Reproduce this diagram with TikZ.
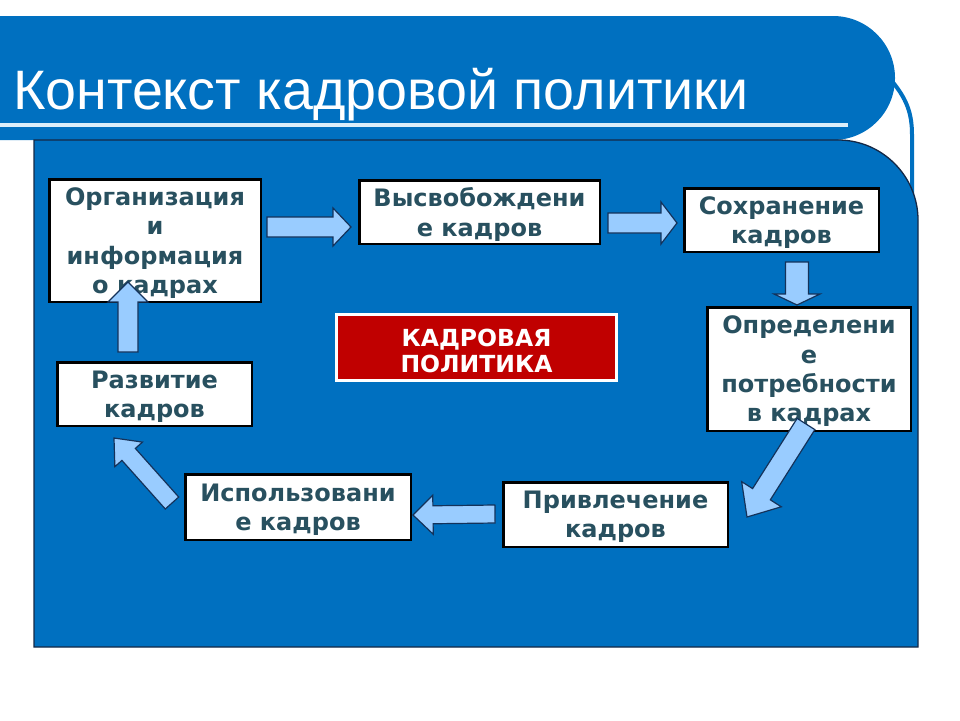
\documentclass[tikz,border=0pt]{standalone}
\usepackage{fontspec}
\setmainfont{DejaVu Sans}
\newfontfamily\titlefont{Liberation Sans}
\usetikzlibrary{calc}
\definecolor{bluebg}{RGB}{0,112,192}
\definecolor{panelborder}{RGB}{20,40,70}
\definecolor{boxtext}{RGB}{40,80,95}
\definecolor{arrowfill}{RGB}{153,204,255}
\definecolor{arrowdraw}{RGB}{20,50,90}
\definecolor{redfill}{RGB}{192,0,0}
\definecolor{titleline}{RGB}{220,238,250}
\tikzset{
  stagebox/.style={draw=black, line width=2.5pt, fill=white, text=boxtext, align=center, inner sep=1pt,
    text depth=0pt, font=\fontsize{24}{29.3}\selectfont\bfseries},
  policybox/.style={draw=white, line width=3pt, fill=redfill, text=white, align=center, inner sep=1pt,
    font=\fontsize{23.5}{26}\selectfont\bfseries},
  barrow/.style={draw=arrowdraw, line width=1.2pt, fill=arrowfill, line join=miter}
}
% block arrow: tail, tip, shaft half-width, head half-width, head length
\newcommand\blockarr[5]{%
  \coordinate (bhh) at ($(#2)!#5pt!(#1)$);
  \draw[barrow] ($(#1)!#3pt!90:(#2)$) -- ($(bhh)!#3pt!90:(#2)$) -- ($(bhh)!#4pt!90:(#2)$) -- (#2)
    -- ($(bhh)!#4pt!-90:(#2)$) -- ($(bhh)!#3pt!-90:(#2)$) -- ($(#1)!#3pt!-90:(#2)$) -- cycle;}
\begin{document}
\begin{tikzpicture}[x=1pt,y=-1pt]
\useasboundingbox (0,0) rectangle (960,720);
\clip (0,0) rectangle (960,720);
\fill[white] (0,0) rectangle (960,720);
% title banner
\fill[bluebg, rounded corners=62pt] (-100,16) rectangle (895,140);
\draw[bluebg, line width=4pt] (891,80) .. controls (906,98) and (912,112) .. (912,135) -- (912,260);
\draw[titleline, line width=4pt] (0,125) -- (848,125);
\node[anchor=base west, text=white, inner sep=0pt, font=\titlefont\fontsize{55.6}{60}\selectfont] (title) at (13,109) {Контекст кадровой политики};
% panel
\draw[fill=bluebg, draw=panelborder, line width=1.3pt] (34,647) -- (34,140) -- (838,140)
  .. controls (882,140) and (918,176) .. (918,220) -- (918,647) -- cycle;
% boxes
\node[stagebox, minimum width=211.5pt, minimum height=122.5pt] (b1) at (155,240.5) {Организация\\и\\информация\\о кадрах};
\node[stagebox, minimum width=240.5pt, minimum height=63.5pt] (b2) at (479.5,212) {Высвобождени\\е кадров};
\node[stagebox, minimum width=194.5pt, minimum height=63.5pt] (b3) at (781.5,220) {Сохранение\\кадров};
\node[stagebox, minimum width=203.5pt, minimum height=123.5pt] (b4) at (809,369) {Определени\\е\\потребности\\в кадрах};
\node[stagebox, minimum width=224.5pt, minimum height=64.5pt] (b5) at (615.5,514.5) {Привлечение\\кадров};
\node[stagebox, minimum width=225.5pt, minimum height=65.5pt] (b6) at (298,507) {Использовани\\е кадров};
\node[stagebox, minimum width=194.5pt, minimum height=63.5pt] (b7) at (154.5,394) {Развитие\\кадров};
\node[policybox, minimum width=280pt, minimum height=66pt] (kp) at (476.5,347.5) {\rule{0pt}{24pt}КАДРОВАЯ\\ПОЛИТИКА};
% arrow end points
\coordinate (a1t) at (267,227); \coordinate (a1h) at (351,227);
\coordinate (a2t) at (608,223); \coordinate (a2h) at (677,223);
\coordinate (a3t) at (797,262); \coordinate (a3h) at (797,305);
\coordinate (a4t) at (806,424); \coordinate (a4h) at (747,517);
\coordinate (a5t) at (495,514); \coordinate (a5h) at (413,515);
\coordinate (a6t) at (172,503); \coordinate (a6h) at (114,438);
\coordinate (a7t) at (128,352); \coordinate (a7h) at (128,282);
\blockarr{a1t}{a1h}{10}{19}{18}
\blockarr{a2t}{a2h}{10}{21}{16}
\blockarr{a3t}{a3h}{11.5}{23}{11}
\blockarr{a4t}{a4h}{10.5}{23.5}{27}
\blockarr{a5t}{a5h}{9}{19.5}{20}
\blockarr{a6t}{a6h}{9}{18.5}{22}
\blockarr{a7t}{a7h}{10}{20}{20}
\end{tikzpicture}
\end{document}
